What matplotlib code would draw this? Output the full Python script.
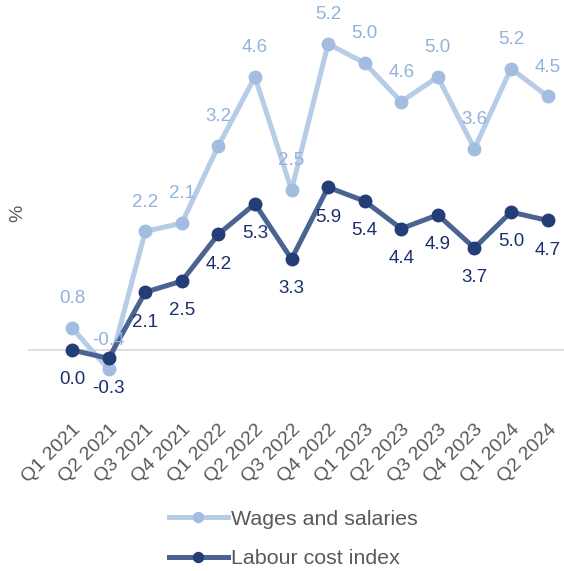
import matplotlib.pyplot as plt
import numpy as np

# quarters and values (%)
quarters = ['Q1 2021', 'Q2 2021', 'Q3 2021', 'Q4 2021', 'Q1 2022', 'Q2 2022', 'Q3 2022',
            'Q4 2022', 'Q1 2023', 'Q2 2023', 'Q3 2023', 'Q4 2023', 'Q1 2024', 'Q2 2024']
labour_cost = [0.0, -0.3, 2.1, 2.5, 4.2, 5.3, 3.3, 5.9, 5.4, 4.4, 4.9, 3.7, 5.0, 4.7]
wages = [0.8, -0.4, 2.2, 2.1, 3.2, 4.6, 2.5, 5.2, 5.0, 4.6, 5.0, 3.6, 5.2, 4.5]

plt.rcParams['font.family'] = ['Liberation Sans', 'DejaVu Sans']

fig = plt.figure(figsize=(5.64, 5.71), dpi=100)
ax = fig.add_axes([0.05, 0.282, 0.95, 0.709])

x = np.arange(len(quarters))
lab = np.array(labour_cost)
# the wages series is stacked on top of the labour cost index
wag_stack = lab + np.array(wages)

light_line = '#b7cce6'
light_mark = '#a2bde0'
dark_line = '#4b6391'
dark_mark = '#233d77'

ax.axhline(0, color='#d9d9d9', lw=1.2, zorder=1)

ax.plot(x, wag_stack, color=light_line, lw=3.6, marker='o', markersize=9,
        markerfacecolor=light_mark, markeredgecolor=light_mark, zorder=2,
        label='Wages and salaries')
ax.plot(x, lab, color=dark_line, lw=3.6, marker='o', markersize=9,
        markerfacecolor=dark_mark, markeredgecolor=dark_mark, zorder=3,
        label='Labour cost index')

for xi, yi, v in zip(x, wag_stack, wages):
    ax.annotate(f'{v:.1f}', (xi, yi), xytext=(0, 21), textcoords='offset points',
                ha='center', va='center', fontsize=13.5, color='#92b2dc', zorder=4)
for xi, yi, v in zip(x, lab, labour_cost):
    ax.annotate(f'{v:.1f}', (xi, yi), xytext=(0, -21.5), textcoords='offset points',
                ha='center', va='center', fontsize=13.5, color='#1b2f6e', zorder=4)

ax.set_xlim(-1.2, 13.45)
ax.set_ylim(-2.17, 12.5)
ax.set_xticks(x)
ax.set_xticklabels(quarters, rotation=45, ha='right', rotation_mode='anchor',
                   fontsize=14, color='#595959')
ax.tick_params(axis='x', length=0, pad=8)
ax.set_yticks([])
for s in ax.spines.values():
    s.set_visible(False)

fig.text(0.032, 0.627, '%', rotation=90, ha='center', va='center',
         fontsize=14, color='#595959')

leg = fig.legend(loc='center', bbox_to_anchor=(0.52, 0.056), frameon=False,
                 fontsize=15.4, handlelength=2.75, handletextpad=0.15,
                 labelspacing=0.95, markerscale=0.8)
for t in leg.get_texts():
    t.set_color('#595959')

plt.savefig('out.png', dpi=100)
